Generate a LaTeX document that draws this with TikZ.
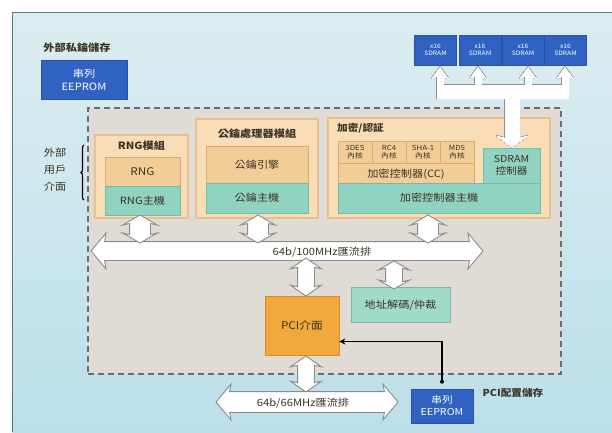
\documentclass[tikz,border=0pt]{standalone}
\usepackage{fontspec}
\setmainfont{Noto Sans CJK TC}[FakeStretch=1.12]
\usetikzlibrary{shapes.arrows,arrows.meta,decorations.pathreplacing}
\definecolor{bgtop}{HTML}{DCEDF1}
\definecolor{bgbot}{HTML}{BCDFE9}
\definecolor{edgeln}{HTML}{557E89}
\definecolor{framefill}{HTML}{E0DCD5}
\definecolor{framedraw}{HTML}{6E6E6E}
\definecolor{modfill}{HTML}{F8DDB6}
\definecolor{moddraw}{HTML}{E6C08E}
\definecolor{innerfill}{HTML}{F3CD97}
\definecolor{innerdraw}{HTML}{D6AC72}
\definecolor{tealfill}{HTML}{8FD3C0}
\definecolor{tealdraw}{HTML}{74BCA9}
\definecolor{pcifill}{HTML}{F2A83C}
\definecolor{pcidraw}{HTML}{D68E2A}
\definecolor{eblue}{HTML}{2F62C1}
\definecolor{arrgray}{HTML}{8C8C8C}
\definecolor{txt}{HTML}{3A3326}
\begin{document}
\begin{tikzpicture}[x=1pt,y=-1pt,
  blk/.style={rectangle, inner sep=0pt, align=center, line width=0.6pt},
  bluebox/.style={blk, fill=eblue, draw=eblue!85!black, text=white},
  modbox/.style={blk, fill=modfill, draw=moddraw, line width=1.2pt},
  innerbox/.style={blk, fill=innerfill, draw=innerdraw, text=txt},
  tealbox/.style={blk, fill=tealfill, draw=tealdraw, text=txt},
  lbl/.style={inner sep=0pt, text=txt, align=center},
  fat/.style n args={3}{shape=double arrow, draw=arrgray, fill=white, line width=0.9pt,
     inner xsep=0pt, inner ysep=#2pt, double arrow head extend=#3pt, minimum height=#1pt,
     double arrow head indent=1.5pt},
]
\useasboundingbox (0,0) rectangle (612,432);
% background
\fill[white] (0,0) rectangle (612,432);
\shade[top color=bgtop, bottom color=bgbot] (12,12) rectangle (612,432);
\draw[edgeln, line width=1.4pt] (12.5,432) -- (12.5,12.5) -- (612,12.5);

% external private key storage
\node[lbl, font=\bfseries\fontsize{10}{10}\selectfont] (keytitle) at (77,48) {外部私鑰儲存};
\node[bluebox, minimum width=86, minimum height=39, font=\fontsize{10}{13}\selectfont] (eep1) at (84,79.5) {串列\\EEPROM};

% SDRAM chips
\foreach \i/\cx in {1/435.5,2/480,3/523,4/565.5}
  \node[bluebox, minimum width=42, minimum height=30, font=\fontsize{6}{7.5}\selectfont] (sd\i) at (\cx,50) {x16\\SDRAM};

% dashed frame
\node[blk, fill=framefill, draw=framedraw, line width=1.3pt, dash pattern=on 6pt off 4pt,
      minimum width=473, minimum height=266] (frame) at (324.5,241) {};

% external user interface
\node[lbl, font=\fontsize{10}{17}\selectfont] (extui) at (55,170) {外部\\用戶\\介面};
\draw[line width=1.2pt, decorate, decoration={brace, amplitude=3pt}] (84,200) -- (84,145);

% RNG module
\node[modbox, minimum width=93, minimum height=83] (rngmod) at (141.5,176.5) {};
\node[lbl, font=\bfseries\fontsize{10}{10}\selectfont] (rngtitle) at (141.5,145.5) {RNG模組};
\node[innerbox, minimum width=75, minimum height=29, font=\fontsize{10.5}{10.5}\selectfont] (rng) at (142.5,171.5) {RNG};
\node[tealbox, minimum width=75, minimum height=29, font=\fontsize{10}{10}\selectfont] (rnghost) at (142.5,200.5) {RNG主機};

% public key module
\node[modbox, minimum width=122, minimum height=99] (pkmod) at (257,168.5) {};
\node[lbl, font=\bfseries\fontsize{10}{10}\selectfont] (pktitle) at (257,134) {公鑰處理器模組};
\node[innerbox, minimum width=102, minimum height=37, font=\fontsize{10}{10}\selectfont] (pke) at (257,164.5) {公鑰引擎};
\node[tealbox, minimum width=102, minimum height=30, font=\fontsize{10}{10}\selectfont] (pkhost) at (257,198) {公鑰主機};

% crypto module
\node[modbox, minimum width=222, minimum height=100] (cmod) at (439,168) {};
\node[lbl, anchor=west, font=\bfseries\fontsize{9.5}{9.5}\selectfont] (ctitle) at (337,128) {加密/認証};
\foreach \n/\cx/\t in {des/355/3DES,rc/389/RC4,sha/423/SHA-1,md/457/MD5}
  \node[innerbox, minimum width=34, minimum height=22, font=\fontsize{7}{8.5}\selectfont] (\n) at (\cx,152) {\t\\內核};
\node[innerbox, minimum width=136, minimum height=22, font=\fontsize{10}{10}\selectfont] (cc) at (406,174) {加密控制器(CC)};
\node[tealbox, minimum width=57, minimum height=35, font=\fontsize{9.5}{11.5}\selectfont] (sdctl) at (511.5,165.5) {SDRAM\\控制器};
\node[tealbox, minimum width=202, minimum height=30, font=\fontsize{10}{10}\selectfont] (chost) at (439,198) {加密控制器主機};

% SDRAM tree (white fat arrows from controller to the chips)
\foreach \lw/\col in {1.8pt/arrgray, 0pt/white}{
  \foreach \x in {440,478,528,565}{
    \filldraw[draw=\col, fill=\col, line width=\lw] (\x-3,76) rectangle (\x+3,88);
    \filldraw[draw=\col, fill=\col, line width=\lw, line join=round] (\x-8,78) -- (\x,67) -- (\x+8,78) -- (\x+3,76.5) -- (\x-3,76.5) -- cycle;
  }
  \filldraw[draw=\col, fill=\col, line width=\lw] (437,85) rectangle (568,98);
  \filldraw[draw=\col, fill=\col, line width=\lw] (505,95) rectangle (519,139);
  \filldraw[draw=\col, fill=\col, line width=\lw, line join=round] (497,136) -- (512,147) -- (527,136) -- (519,138) -- (505,138) -- cycle;
}

% 100 MHz bus
\node[fat={392}{9}{8.5}, double arrow tip angle=100] (bus100) at (287,251) {};
\node[lbl, font=\fontsize{10}{10}\selectfont] (bus100t) at (322,252) {64b/100MHz匯流排};

% module <-> bus arrows
\node[fat={28}{10}{7}, double arrow tip angle=120, rotate=90] (a1) at (140,229) {};
\node[fat={28}{10}{7}, double arrow tip angle=120, rotate=90] (a2) at (258,229) {};
\node[fat={28}{10}{7}, double arrow tip angle=120, rotate=90] (a3) at (428,229) {};

% PCI & address decoder
\node[blk, fill=pcifill, draw=pcidraw, text=txt, minimum width=74, minimum height=59, font=\fontsize{10.5}{10.5}\selectfont] (pci) at (302,325.5) {PCI介面};
\node[tealbox, fill=tealfill!85!white, minimum width=99, minimum height=35, font=\fontsize{10}{10}\selectfont] (addr) at (400.5,305) {地址解碼/仲裁};
\node[fat={38}{8}{7}, double arrow tip angle=110, rotate=90] (a4) at (306,277) {};
\node[fat={28}{8}{7}, double arrow tip angle=120, rotate=90] (a5) at (394,275) {};
\node[fat={36}{8}{7}, double arrow tip angle=110, rotate=90] (a6) at (306,374) {};

% 66 MHz bus
\node[fat={182}{10}{7.5}, double arrow tip angle=100] (bus66) at (307,402) {};
\node[lbl, font=\fontsize{10}{10}\selectfont] (bus66t) at (303,403) {64b/66MHz匯流排};

% serial EEPROM for PCI config
\node[bluebox, minimum width=62, minimum height=34, font=\fontsize{9.5}{12}\selectfont] (eep2) at (442,406) {串列\\EEPROM};
\node[lbl, font=\bfseries\fontsize{9.5}{9.5}\selectfont] (pcicfg) at (513,393) {PCI配置儲存};
\coordinate (eeptop) at ([yshift=7pt]eep2.north);
\fill (eeptop) circle (2pt);
\draw[line width=1.8pt, -{Stealth[length=6pt,width=6pt]}] (eeptop) |- ([yshift=-16pt]pci.east);
\end{tikzpicture}
\end{document}
